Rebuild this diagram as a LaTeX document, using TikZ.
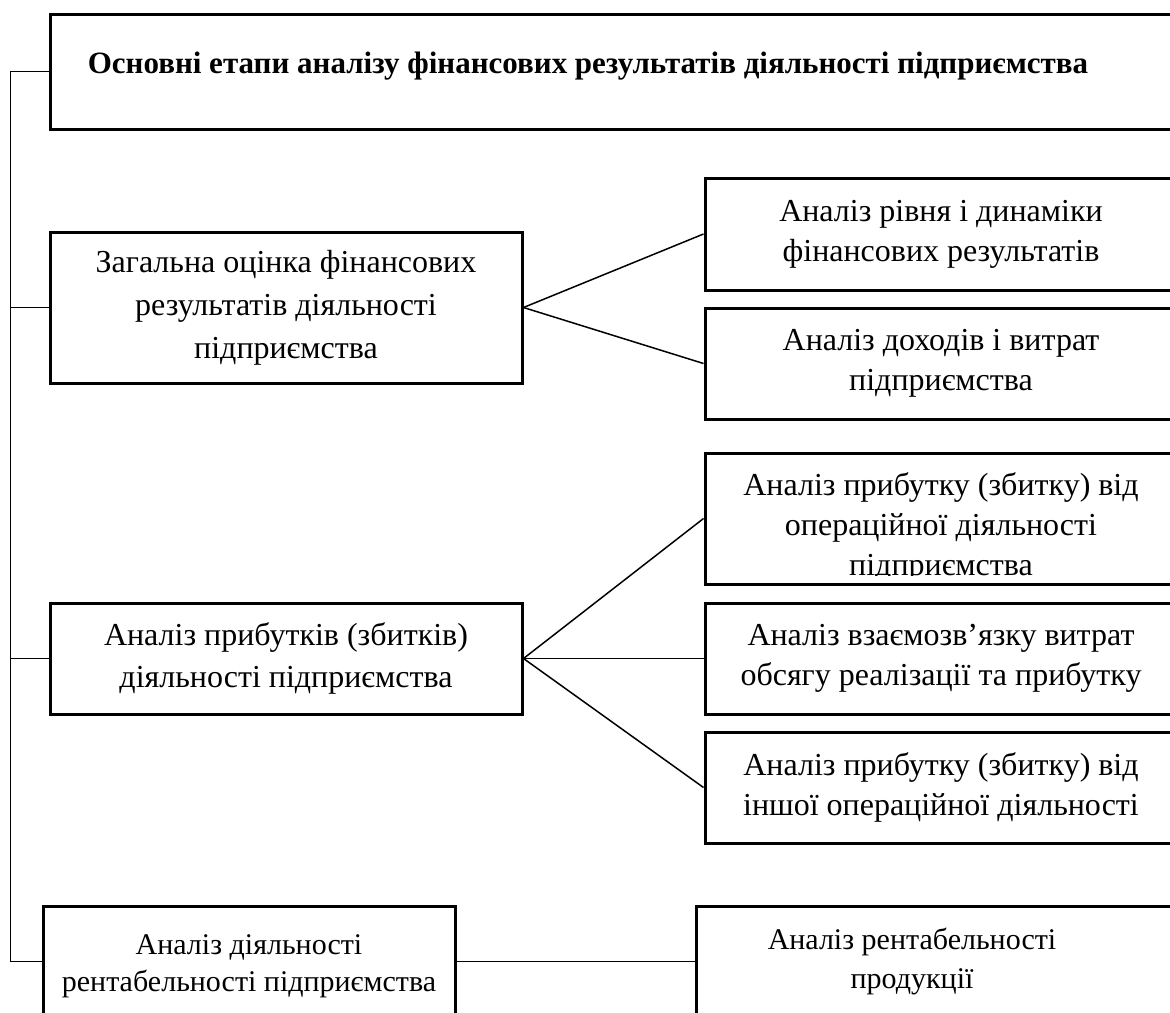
\documentclass[tikz,border=0pt]{standalone}
\usepackage{fontspec}
\setmainfont{Liberation Serif}
\begin{document}
\begin{tikzpicture}[x=0.5pt,y=-0.5pt]
\tikzstyle{every node}+=[inner sep=0pt, align=center, font=\fontsize{16}{20}\selectfont]
\tikzstyle{box}=[draw=black, line width=1.5pt, rectangle]
\tikzstyle{link}=[draw=black, line width=0.75pt]
\clip (0,0) rectangle (1170,1012);
% heading
\node[box, minimum width=565pt, minimum height=57.5pt,
  label={[font=\fontsize{15.5}{18}\selectfont\bfseries, xshift=-13.5pt, yshift=2.5pt]center:Основні етапи аналізу фінансових результатів діяльності підприємства}] (head) at (615,71.5) {};
% left column
\node[box, minimum width=236pt, minimum height=75.5pt, font=\fontsize{16}{21.5}\selectfont] (b2) at (286,307.5) {Загальна оцінка фінансових\\результатів діяльності\\підприємства};
\node[box, minimum width=236pt, minimum height=55.5pt, font=\fontsize{16}{21}\selectfont] (b3) at (286,658.5) {Аналіз прибутків (збитків)\\діяльності підприємства};
\node[box, minimum width=206pt, minimum height=55.5pt,
  label={[font=\fontsize{15}{18.5}\selectfont, yshift=-2.5pt]center:Аналіз діяльності\\рентабельності підприємства}] (b4) at (249,961.5) {};
% right column
\node[box, minimum width=236pt, minimum height=56pt] (rA) at (941,234) {Аналіз рівня і динаміки\\фінансових результатів};
\node[box, minimum width=236pt, minimum height=55.5pt] (rB) at (941,363.5) {Аналіз доходів і витрат\\підприємства};
\node[box, minimum width=236pt, minimum height=65.5pt] (rC) at (941,518.5) {};
\begin{scope}
\clip (rC.north west) rectangle ([yshift=5pt]rC.south east);
\node (rCtext) at (941,527) {Аналіз прибутку (збитку) від\\операційної діяльності\\підприємства};
\end{scope}
\node[box, minimum width=236pt, minimum height=55.5pt] (rD) at (941,658.5) {Аналіз взаємозв’язку витрат\\обсягу реалізації та прибутку};
\node[box, minimum width=236pt, minimum height=55.5pt] (rE) at (941,787.5) {Аналіз прибутку (збитку) від\\іншої операційної діяльності};
\node[box, minimum width=242pt, minimum height=55.5pt,
  label={[font=\fontsize{15}{19.5}\selectfont, xshift=-13pt]center:Аналіз рентабельності\\продукції}] (rF) at (938,961.5) {};
% connectors
\draw[link] (head.west) -- ++(-38,0) coordinate (spine) |- (b4.west);
\foreach \n in {b2,b3}
  \draw[link] (\n.west) -- (\n.west -| spine);
\foreach \n in {rA,rB}
  \draw[link] (b2.east) -- (\n.west);
\foreach \n in {rC,rD,rE}
  \draw[link] (b3.east) -- (\n.west);
\draw[link] (b4.east) -- (rF.west);
\end{tikzpicture}
\end{document}
